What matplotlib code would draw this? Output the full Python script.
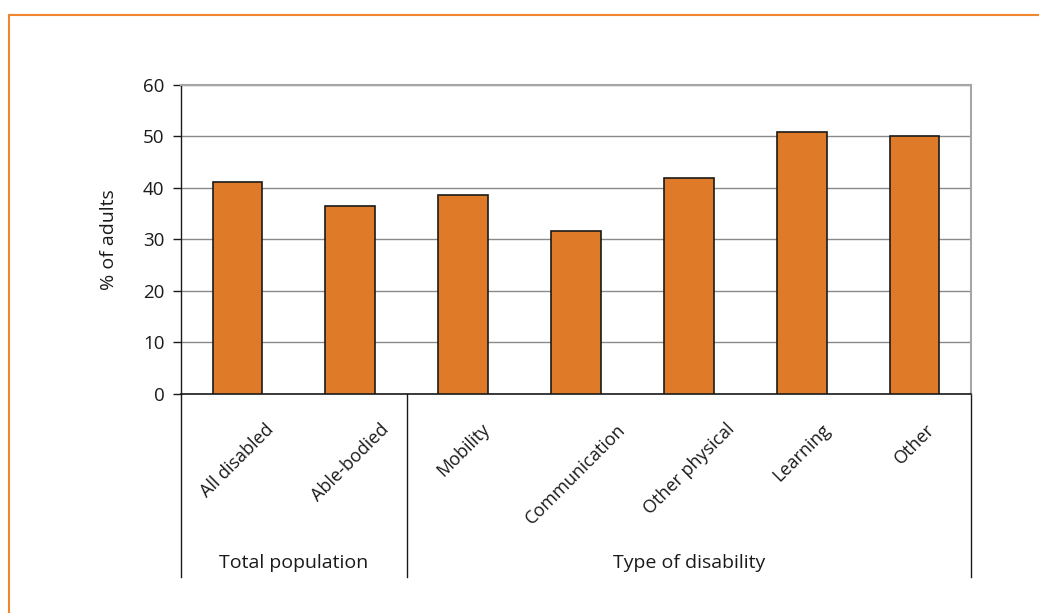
import matplotlib
matplotlib.use("Agg")
import matplotlib.pyplot as plt
import matplotlib.transforms as mtransforms
from matplotlib.patches import Rectangle

plt.rcParams['font.family'] = ['Open Sans', 'DejaVu Sans']

# data
categories = ['All disabled', 'Able-bodied', 'Mobility', 'Communication',
              'Other physical', 'Learning', 'Other']
values = [41.1, 36.5, 38.5, 31.6, 41.9, 50.8, 50.0]
groups = ['Total population', 'Type of disability']
group_sizes = [2, 5]
yticks = [0, 10, 20, 30, 40, 50, 60]

bar_color = '#DE7A28'
frame_color = '#F0872E'

fig = plt.figure(figsize=(10.39, 6.13), dpi=100)

# orange panel frame (left + top edges visible)
fig.add_artist(Rectangle((8.5 / 1039, -0.1), 1.2, 1 - 15 / 613 + 0.1,
                         transform=fig.transFigure, fill=False,
                         edgecolor=frame_color, linewidth=1.5))

ax = fig.add_axes([181 / 1039, 1 - 394 / 613, 790 / 1039, 309.5 / 613])

x = range(len(categories))
ax.bar(x, values, width=0.44, color=bar_color, edgecolor='#1a1a1a',
       linewidth=1.2, zorder=3)

ax.set_xlim(-0.5, len(categories) - 0.5)
ax.set_ylim(0, 60)
ax.set_yticks(yticks)
ax.tick_params(axis='y', direction='out', length=6, width=1, labelsize=13.5,
               pad=6, colors='#1a1a1a')
ax.set_xticks([])
ax.yaxis.grid(True, color='#8a8a8a', linewidth=1)
ax.set_axisbelow(True)

for side in ['top', 'right']:
    ax.spines[side].set_color('#a6a6a6')
    ax.spines[side].set_linewidth(1.5)
ax.spines['left'].set_color('#1a1a1a')
ax.spines['bottom'].set_color('#1a1a1a')
ax.spines['left'].set_linewidth(1)
ax.spines['bottom'].set_linewidth(1.2)

ax.set_ylabel('% of adults', fontsize=14, color='#1a1a1a', labelpad=18)

trans = mtransforms.blended_transform_factory(ax.transData, ax.transAxes)

# rotated category labels
for i, name in enumerate(categories):
    ax.text(i, -0.085, name, transform=trans, rotation=45, ha='center',
            va='top', fontsize=13, color='#1a1a1a')

# group separators and group labels
start = -0.5
bounds = [start]
for n in group_sizes:
    bounds.append(bounds[-1] + n)
for b in bounds:
    ax.plot([b, b], [0, -0.592], transform=trans, color='#1a1a1a',
            linewidth=1, clip_on=False)
for g, a, b in zip(groups, bounds[:-1], bounds[1:]):
    ax.text((a + b) / 2, -0.545, g, transform=trans, ha='center',
            va='center', fontsize=14, color='#1a1a1a')

fig.savefig('out.png', dpi=100)
